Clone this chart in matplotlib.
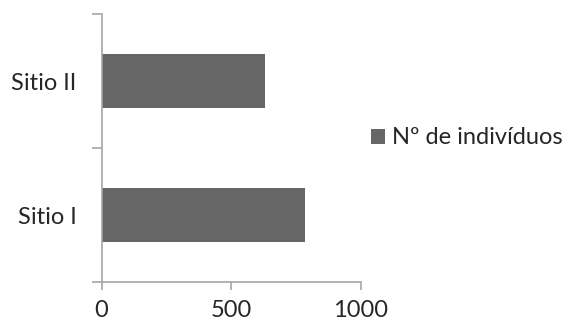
import matplotlib.pyplot as plt
from matplotlib.patches import Patch

sites = ['Sitio I', 'Sitio II']
individuals = [783, 629]
xticks = [0, 500, 1000]

plt.rcParams['font.family'] = ['Lato', 'DejaVu Sans']

bar_color = '#666666'
axis_color = '#a6a6a6'
text_color = '#262626'
fs = 17

fig = plt.figure(figsize=(5.72, 3.25), dpi=100, facecolor='w')
ax = fig.add_axes([101.5 / 572, 43 / 325, 259.5 / 572, 268 / 325])

pos = range(len(sites))
ax.barh(pos, individuals, height=0.4, color=bar_color, label='Nº de indivíduos')

ax.set_xlim(0, 1000)
ax.set_ylim(-0.5, 1.5)
ax.set_xticks(xticks)
ax.set_xticklabels([str(v) for v in xticks], fontsize=fs, color=text_color)

# category labels sit between the boundary ticks
ax.set_yticks([-0.5, 0.5, 1.5])
ax.set_yticklabels([])
ax.set_yticks(list(pos), minor=True)
ax.set_yticklabels(sites, minor=True, fontsize=fs, color=text_color)
ax.tick_params(axis='y', which='minor', length=0, pad=18)
ax.tick_params(axis='y', which='major', length=7, width=1.2, color=axis_color, direction='out')
ax.tick_params(axis='x', length=6, width=1.2, color=axis_color, direction='out', pad=7)

for side in ['top', 'right']:
    ax.spines[side].set_visible(False)
for side in ['left', 'bottom']:
    ax.spines[side].set_color(axis_color)
    ax.spines[side].set_linewidth(1.2)

handles = [Patch(facecolor=bar_color, label='Nº de indivíduos')]
fig.legend(handles=handles, loc='center left', bbox_to_anchor=(371 / 572, 1 - 138 / 325),
           frameon=False, fontsize=fs, handlelength=0.59, handleheight=0.59,
           handletextpad=0.3, borderpad=0, borderaxespad=0, labelcolor=text_color)

fig.savefig('out.png', dpi=100)
